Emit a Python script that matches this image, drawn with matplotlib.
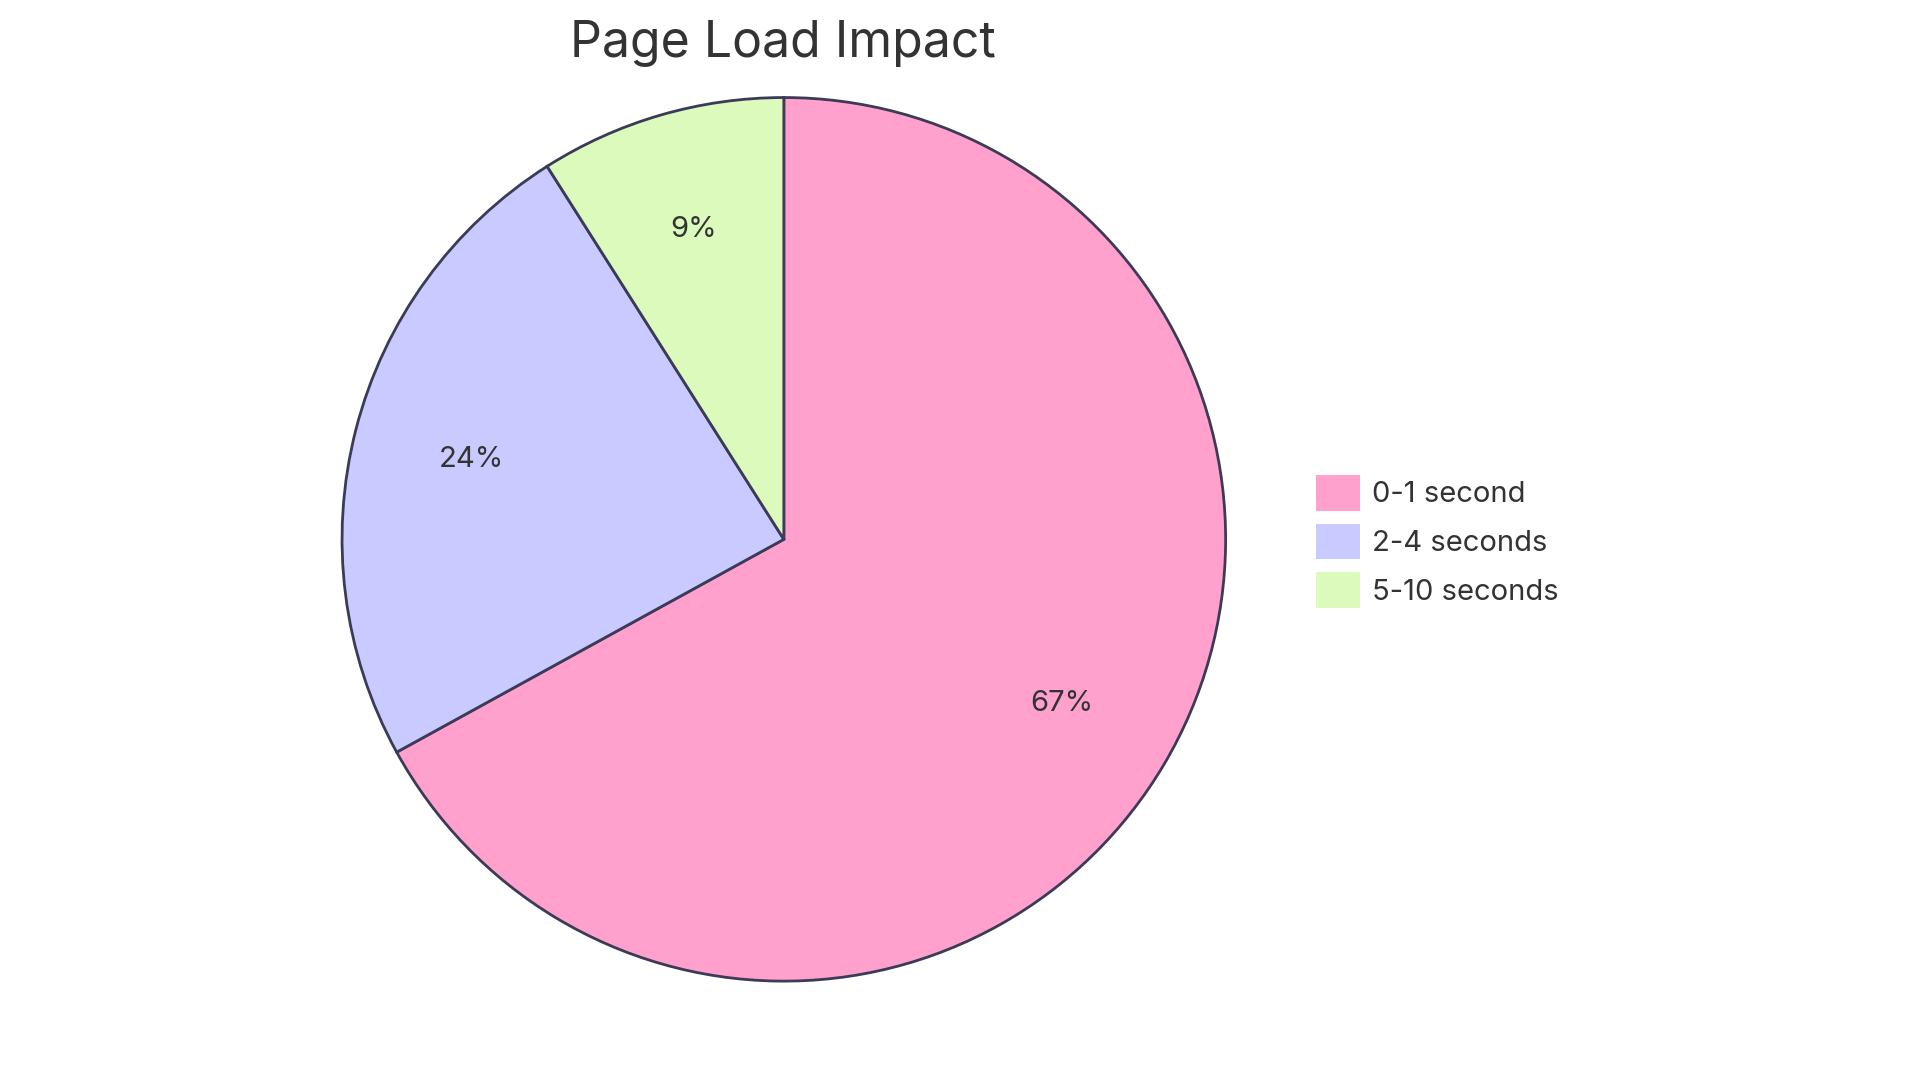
import matplotlib.pyplot as plt
from matplotlib.patches import Patch

plt.rcParams['font.family'] = ['Inter', 'DejaVu Sans']

labels = ["0-1 second", "2-4 seconds", "5-10 seconds"]
values = [67, 24, 9]
colors = ["#FFA1CC", "#C9CAFF", "#DCFABC"]
edge = "#3B3B58"
text_color = "#333333"

fig = plt.figure(figsize=(19.2, 10.83), dpi=100)
ax = fig.add_axes([0.177, 0.092, 0.4625, 0.82])

wedges, texts, autotexts = ax.pie(
    values, colors=colors, startangle=90, counterclock=False,
    autopct="%1.0f%%", pctdistance=0.73,
    wedgeprops={"edgecolor": edge, "linewidth": 2},
    textprops={"fontsize": 21, "color": text_color},
)
ax.set_xlim(-1.005, 1.005)
ax.set_ylim(-1.005, 1.005)
ax.set_aspect("equal")

fig.text(0.408, 0.96, "Page Load Impact", ha="center", va="center",
         fontsize=36, color=text_color)

handles = [Patch(facecolor=c, edgecolor="none") for c in colors]
fig.legend(handles, labels, loc="center left", bbox_to_anchor=(0.672, 0.5),
           frameon=False, fontsize=21, handlelength=1.5, handleheight=1.5,
           labelspacing=0.45, handletextpad=0.4, labelcolor=text_color)

fig.savefig("out.png", dpi=100)
